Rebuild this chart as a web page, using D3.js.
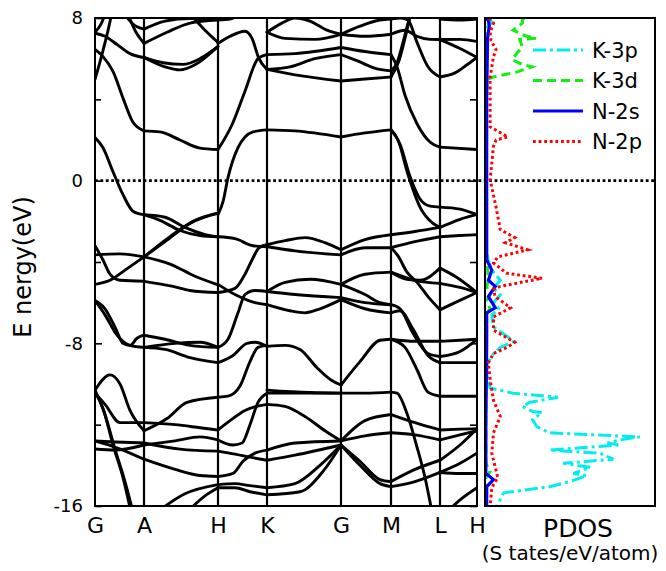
<!DOCTYPE html>
<html><head><meta charset="utf-8">
<script src="https://cdn.jsdelivr.net/npm/d3@7"></script>
<style>body{margin:0;background:#fff}text{font-family:"DejaVu Sans",sans-serif}</style>
</head><body>
<svg id="chart" width="666" height="571"></svg>
<script>
// ---- k-path & axis labels ----
const kLabels = ["G","A","H","K","G","M","L","H"];
const kPositions = [0,49,123,172,246,296,345,382];
const energyTicks = [8,0,-8,-16];
const minorTicks = [4,-4,-12];

// ---- band structure: [k, E(eV)] per segment ----
const bandsGA = [
 [[0,4.98],[8,6.4],[14,7.6],[17,8.3]],
 [[0,7.3],[6,7.7],[11,8.3]],
 [[0,7.25],[10,7.1],[22,6.7],[35,6.25],[49,6.06]],
 [[0,6.45],[8,6.1],[18,5.37],[28,4.06],[38,2.87],[49,2.45]],
 [[28,8.3],[38,7.7],[49,7.45]],
 [[32,8.3],[41,7.3],[49,6.75]],
 [[0,2.12],[8,1.62],[18,0.44],[28,-0.69],[38,-1.5],[49,-1.67]],
 [[0,-3.2],[8,-3.9],[15,-4.6],[25,-4.9],[49,-4.95]],
 [[0,-3.65],[25,-3.6],[49,-3.75]],
 [[0,-5.1],[15,-4.9],[30,-4.4],[49,-3.75]],
 [[0,-5.9],[10,-6.3],[20,-7.2],[28,-8.0],[35,-8.1],[42,-7.75],[49,-7.6]],
 [[0,-5.9],[10,-6.6],[22,-7.6],[35,-8.1],[49,-8.2]],
 [[0,-10.3],[15,-9.55],[25,-10.0],[35,-11.3],[49,-12.3]],
 [[0,-10.45],[10,-11.0],[25,-11.9],[49,-11.9]],
 [[0,-10.3],[10,-11.5],[20,-13.2],[30,-14.8],[38,-16.3]],
 [[0,-10.4],[8,-11.2],[18,-13.0],[28,-14.6],[36,-16.3]],
 [[0,-12.8],[20,-12.85],[49,-12.9]],
 [[0,-13.2],[20,-13.25],[49,-13.0]],
 [[0,-12.8],[20,-13.1],[49,-13.7]]
];
const bandsAH = [
 [[49,7.45],[70,7.85],[95,7.97],[123,7.97]],
 [[49,6.75],[72,7.3],[95,7.75],[123,7.9]],
 [[95,8.2],[110,7.4],[123,6.8]],
 [[49,6.06],[70,5.6],[85,5.45],[100,5.7],[123,6.6]],
 [[49,6.06],[68,5.8],[88,5.72],[105,6.0],[123,6.6]],
 [[49,2.45],[65,2.4],[85,2.0],[105,1.6],[123,1.53]],
 [[49,-1.67],[70,-1.8],[90,-2.3],[110,-2.65],[123,-2.76]],
 [[49,-1.67],[65,-1.95],[85,-2.45],[105,-2.7],[123,-2.76]],
 [[49,-3.75],[70,-3.0],[95,-2.1],[123,-1.6]],
 [[49,-3.75],[75,-2.75],[100,-1.95],[123,-1.6]],
 [[49,-3.75],[75,-4.1],[100,-4.7],[123,-5.12]],
 [[49,-4.95],[78,-5.2],[95,-5.4],[123,-5.5]],
 [[49,-7.6],[70,-7.8],[95,-8.1],[123,-8.2]],
 [[49,-8.2],[70,-8.3],[95,-8.7],[123,-8.95]],
 [[49,-8.2],[80,-8.0],[105,-7.95],[123,-8.2]],
 [[49,-12.3],[72,-11.7],[92,-10.9],[123,-10.65]],
 [[49,-11.9],[80,-12.0],[105,-12.15],[123,-12.26]],
 [[49,-13.0],[80,-12.8],[105,-12.6],[123,-12.75]],
 [[49,-12.9],[85,-13.2],[123,-13.3]],
 [[49,-13.7],[80,-14.2],[105,-14.5],[123,-14.55]],
 [[62,-16.3],[90,-15.4],[123,-14.95]],
 [[92,-16.3],[110,-15.5],[123,-15.1]]
];
const bandsHK = [
 [[123,1.53],[137,2.75],[150,4.4],[163,6.0],[172,6.2]],
 [[123,6.75],[135,7.1],[150,7.35],[157,7.0],[164,6.0],[172,5.47]],
 [[123,7.9],[135,7.95],[145,8.2]],
 [[123,-1.67],[128,-1.03],[133,0.15],[143,1.62],[158,2.4],[172,2.5]],
 [[123,-2.76],[140,-2.85],[158,-3.2],[172,-3.25]],
 [[123,-5.1],[140,-5.6],[160,-6.0],[172,-6.1]],
 [[123,-5.5],[140,-5.3],[150,-4.6],[158,-3.8],[164,-3.3],[172,-3.15]],
 [[123,-8.2],[133,-7.8],[143,-6.5],[150,-5.6],[160,-5.4],[172,-5.45]],
 [[123,-8.95],[138,-8.6],[152,-8.0],[160,-7.95],[172,-8.15]],
 [[123,-10.65],[133,-10.6],[145,-10.1],[155,-8.9],[163,-8.2],[172,-8.1]],
 [[123,-12.26],[135,-11.8],[150,-11.3],[172,-11.0]],
 [[123,-12.75],[138,-13.0],[147,-12.9],[155,-12.0],[163,-10.9],[172,-10.45]],
 [[123,-13.3],[140,-13.45],[155,-13.6],[172,-13.75]],
 [[123,-14.55],[138,-14.4],[148,-13.8],[160,-13.4],[172,-13.25]],
 [[123,-14.95],[140,-14.9],[155,-15.0],[172,-15.1]],
 [[123,-15.1],[140,-15.1],[155,-15.3],[172,-15.45]]
];
const bandsKG = [
 [[172,6.2],[200,6.25],[246,6.55]],
 [[172,5.47],[195,5.6],[220,6.0],[246,6.2]],
 [[172,5.47],[200,5.2],[246,4.9]],
 [[172,2.5],[200,2.45],[246,2.15]],
 [[172,7.3],[190,7.0],[220,6.95],[246,7.2]],
 [[172,7.3],[185,7.7],[200,8.0],[215,7.85],[232,7.4],[246,7.2]],
 [[172,-3.15],[190,-2.95],[210,-2.8],[230,-3.05],[246,-3.4]],
 [[172,-3.25],[200,-3.45],[246,-3.65]],
 [[172,-5.45],[190,-5.0],[215,-4.85],[246,-5.1]],
 [[172,-5.45],[200,-5.6],[246,-5.75]],
 [[172,-6.1],[195,-6.4],[210,-6.5],[225,-6.3],[246,-5.85]],
 [[172,-8.15],[190,-8.1],[205,-8.3],[222,-9.2],[236,-9.8],[246,-10.05]],
 [[172,-10.3],[215,-10.42],[246,-10.45]],
 [[172,-10.45],[246,-10.45]],
 [[172,-11.0],[190,-11.1],[210,-11.6],[230,-12.3],[246,-12.8]],
 [[172,-13.25],[200,-12.9],[246,-12.8]],
 [[172,-13.75],[200,-13.5],[246,-13.0]],
 [[172,-15.1],[200,-14.9],[225,-14.0],[246,-13.0]],
 [[172,-15.45],[205,-15.3],[228,-14.3],[246,-13.0]]
];
const bandsGM = [
 [[246,7.2],[265,7.6],[285,7.9],[296,7.95]],
 [[246,7.2],[270,7.1],[296,7.2]],
 [[246,6.55],[270,6.35],[296,6.2]],
 [[246,6.2],[262,5.9],[282,5.5],[296,5.4]],
 [[246,4.9],[270,5.0],[296,5.1]],
 [[246,2.15],[270,2.35],[296,2.5]],
 [[246,-3.4],[270,-2.9],[296,-2.66]],
 [[246,-3.65],[270,-3.3],[296,-3.3]],
 [[246,-5.1],[270,-4.6],[296,-4.5]],
 [[246,-5.1],[270,-5.6],[285,-6.0],[296,-6.1]],
 [[246,-5.75],[270,-6.0],[296,-6.1]],
 [[246,-5.85],[270,-6.3],[296,-6.5]],
 [[246,-10.05],[265,-8.9],[285,-7.85],[296,-7.8]],
 [[246,-10.45],[270,-10.45],[296,-10.4]],
 [[246,-12.8],[270,-11.8],[296,-11.5]],
 [[246,-12.8],[270,-12.55],[296,-12.4]],
 [[246,-13.0],[265,-14.0],[285,-14.9],[296,-15.05]],
 [[246,-13.0],[265,-13.8],[285,-14.7],[296,-14.8]]
];
const bandsML = [
 [[296,6.2],[302,5.6],[310,4.2],[322,2.8],[335,1.9],[345,1.65]],
 [[296,5.4],[302,5.8],[308,6.8],[314,7.9],[317,8.3]],
 [[296,5.1],[304,5.9],[311,7.2],[316,8.3]],
 [[296,7.95],[306,8.0],[313,7.9],[322,6.8],[333,5.6],[345,5.1]],
 [[296,7.2],[310,7.4],[322,7.1],[335,6.95],[345,6.94]],
 [[296,2.5],[305,1.8],[315,0.2],[325,-0.9],[335,-1.25],[345,-1.3]],
 [[296,2.5],[303,2.0],[313,0.3],[325,-1.3],[338,-2.1],[345,-2.3]],
 [[296,-2.66],[320,-2.5],[345,-2.3]],
 [[296,-3.3],[320,-3.0],[345,-2.76]],
 [[296,-3.3],[303,-3.7],[312,-4.5],[322,-5.0],[333,-5.7],[345,-6.35]],
 [[296,-4.5],[320,-4.9],[345,-5.05]],
 [[296,-4.5],[312,-4.85],[325,-4.9],[345,-4.3]],
 [[296,-6.1],[305,-6.3],[318,-7.5],[333,-8.5],[345,-8.65]],
 [[296,-6.5],[305,-6.4],[318,-7.3],[333,-8.6],[345,-8.95]],
 [[296,-7.8],[310,-8.2],[322,-9.3],[333,-10.4],[345,-10.6]],
 [[296,-7.8],[320,-7.9],[345,-7.9]],
 [[296,-10.4],[302,-10.45],[312,-11.45],[322,-13.1],[330,-14.6],[337,-16.3]],
 [[296,-11.5],[320,-11.9],[345,-12.26]],
 [[296,-12.4],[320,-12.5],[345,-12.75]],
 [[296,-14.8],[320,-14.2],[345,-13.75]],
 [[296,-15.05],[320,-14.8],[345,-14.35]]
];
const bandsLH = [
 [[345,6.94],[365,6.95],[382,6.85]],
 [[345,7.95],[365,7.9],[382,7.95]],
 [[345,5.1],[360,5.3],[372,5.7],[382,6.06]],
 [[345,6.94],[365,6.5],[382,6.06]],
 [[345,1.65],[382,1.53]],
 [[345,-1.3],[365,-1.4],[382,-1.67]],
 [[345,-2.3],[365,-1.9],[382,-1.67]],
 [[345,-2.76],[365,-2.7],[382,-2.66]],
 [[345,-4.3],[360,-4.7],[382,-5.5]],
 [[345,-5.05],[365,-5.25],[382,-5.5]],
 [[345,-6.35],[360,-6.0],[382,-5.5]],
 [[345,-7.9],[365,-7.85],[382,-7.8]],
 [[345,-8.65],[365,-8.4],[382,-7.8]],
 [[345,-8.95],[365,-8.95],[382,-8.95]],
 [[345,-10.6],[382,-10.6]],
 [[345,-12.26],[365,-12.22],[382,-12.2]],
 [[345,-12.75],[365,-12.5],[382,-12.3]],
 [[345,-13.75],[365,-13.0],[382,-12.2]],
 [[345,-14.35],[365,-13.9],[382,-13.4]],
 [[345,-14.35],[365,-14.4],[382,-14.4]],
 [[352,-16.3],[365,-15.7],[382,-15.1]]
];

// ---- PDOS: [E(eV), states/eV/atom] ----
const pdosK3p = [[8.0,0.2],[7.8,0.4],[7.5,0.1],[5,0.05],[0,0.05],[-3.5,0.1],[-4.0,0.2],[-4.5,0.5],[-4.9,0.9],[-5.3,0.5],[-5.6,0.9],[-6.0,0.5],[-6.3,0.8],[-6.6,0.4],[-7.2,0.5],[-7.6,1.2],[-7.9,1.7],[-8.2,0.9],[-8.6,0.4],[-9.0,0.15],[-9.5,0.1],[-10.2,0.3],[-10.45,1.65],[-10.65,4.3],[-10.9,2.65],[-11.1,2.2],[-11.35,2.8],[-11.4,3.35],[-11.75,2.8],[-12.1,3.05],[-12.4,3.8],[-12.6,9.1],[-12.75,7.95],[-12.9,7.2],[-13.0,7.95],[-13.25,3.8],[-13.4,6.75],[-13.7,7.55],[-13.9,4.6],[-14.1,6.2],[-14.4,5.2],[-14.5,6.0],[-14.8,5.0],[-15.05,3.8],[-15.35,1.1],[-16.0,0.7]];
const pdosK3d = [[8.0,2.3],[7.9,2.2],[7.75,2.2],[7.4,1.65],[7.1,2.45],[7.0,3.0],[6.95,2.05],[6.55,2.2],[6.3,1.9],[5.95,1.6],[5.7,2.25],[5.6,2.75],[5.35,1.9],[5.1,0.5],[5.0,0.2],[4.5,0.1],[2.0,0.05],[-3.0,0.05],[-4.9,0.2],[-5.2,0.1],[-5.6,0.3],[-5.9,0.1],[-6.3,0.3],[-6.6,0.05],[-8,0.05],[-13.9,0.05],[-14.3,0.3],[-14.6,0.05],[-16,0.05]];
const pdosN2s = [[8.0,0.0],[7.9,0.2],[7.6,0.25],[7.0,0.15],[4,0.1],[0,0.1],[-3.6,0.1],[-3.9,0.1],[-4.4,0.4],[-4.9,0.2],[-5.2,0.6],[-5.7,0.2],[-6.25,0.6],[-6.5,0.1],[-8,0.1],[-12,0.05],[-14.4,0.05],[-14.7,0.5],[-15.05,0.1],[-16,0.1]];
const pdosN2p = [[8.0,0.3],[7.9,0.3],[7.75,0.5],[7.3,0.3],[6.9,0.35],[6.45,0.65],[6.1,0.5],[5.1,0.3],[2.65,0.3],[2.15,1.35],[2.0,0.65],[1.7,0.5],[0.05,0.3],[-1.3,0.65],[-2.4,0.9],[-2.8,1.75],[-3.05,1.2],[-3.4,2.5],[-3.75,0.75],[-4.05,0.5],[-4.3,0.9],[-4.55,1.25],[-4.8,3.35],[-5.2,0.9],[-5.35,0.5],[-5.7,0.6],[-6.25,1.5],[-6.7,0.5],[-7.35,0.5],[-7.95,1.75],[-8.2,1.3],[-8.5,0.5],[-8.95,0.2],[-9.8,0.3],[-10.8,0.5],[-11.6,0.9],[-12.4,0.5],[-13.4,0.4],[-14.6,0.75],[-15.1,0.4],[-16,0.3]];
const legendNames = ["K-3p","K-3d","N-2s","N-2p"];
const legendColors = ["#00eeee","#11ee11","#0000ff","#ff0000"];
const legendDash = ["13,4,3,4","9,5",null,"2.8,2.8"];

// ---- drawing ----
const svg = d3.select("#chart");
const x = d3.scaleLinear().domain([0,382]).range([95,477]);
const y = d3.scaleLinear().domain([-16,8]).range([506,18]);
const xd = d3.scaleLinear().domain([0,10]).range([485,655]);

const defs = svg.append("defs");
defs.append("clipPath").attr("id","cb").append("rect")
  .attr("x",x(0)).attr("y",y(8)).attr("width",x(382)-x(0)).attr("height",y(-16)-y(8));
defs.append("clipPath").attr("id","cd").append("rect")
  .attr("x",xd(0)).attr("y",y(8)).attr("width",xd(10)-xd(0)).attr("height",y(-16)-y(8));

// vertical k lines
svg.append("g").selectAll("line").data(kPositions.slice(1,-1)).join("line")
  .attr("x1",d=>x(d)).attr("x2",d=>x(d)).attr("y1",y(8)).attr("y2",y(-16))
  .attr("stroke","#000").attr("stroke-width",2.2);

// bands
const bandLine = d3.line().x(d=>x(d[0])).y(d=>y(d[1])).curve(d3.curveMonotoneX);
const allBands = [].concat(bandsGA,bandsAH,bandsHK,bandsKG,bandsGM,bandsML,bandsLH);
svg.append("g").attr("clip-path","url(#cb)").selectAll("path").data(allBands).join("path")
  .attr("d",bandLine).attr("fill","none").attr("stroke","#000")
  .attr("stroke-width",2.9).attr("stroke-linejoin","round").attr("stroke-linecap","round");

// Fermi level
svg.append("line").attr("x1",x(0)).attr("x2",xd(10)).attr("y1",y(0)).attr("y2",y(0))
  .attr("stroke","#000").attr("stroke-width",2.8).attr("stroke-dasharray","2.8,2.6");

// PDOS
const dosLine = d3.line().x(d=>xd(d[1])).y(d=>y(d[0]));
const dosSeries = [pdosK3p,pdosK3d,pdosN2s,pdosN2p];
const gd = svg.append("g").attr("clip-path","url(#cd)");
dosSeries.forEach((s,i)=>{
  gd.append("path").attr("d",dosLine(s)).attr("fill","none")
    .attr("stroke",legendColors[i]).attr("stroke-width",i==2?3.2:3)
    .attr("stroke-dasharray",legendDash[i]);
});

// axes
const gl = svg.append("g").attr("transform",`translate(${x(0)},0)`)
  .call(d3.axisLeft(y).tickValues(energyTicks).tickSize(-7).tickPadding(12).tickFormat(d=>String(d)));
gl.append("g").call(d3.axisLeft(y).tickValues(minorTicks).tickSize(-6).tickFormat(""));
const gr = svg.append("g").attr("transform",`translate(${x(382)},0)`)
  .call(d3.axisRight(y).tickValues(energyTicks.concat(minorTicks)).tickSize(-7).tickFormat(""));
const gb = svg.append("g").attr("transform",`translate(0,${y(-16)})`)
  .call(d3.axisBottom(x).tickValues(kPositions).tickSize(0).tickPadding(11).tickFormat((d,i)=>kLabels[i]));
[gl,gr,gb].forEach(g=>{g.selectAll(".domain").remove(); g.selectAll("line").attr("stroke","#000").attr("stroke-width",1.6);});
gl.selectAll("text").attr("font-size",18).attr("font-family","DejaVu Sans").attr("fill","#000");
gb.selectAll("text").attr("font-size",22).attr("font-family","DejaVu Sans").attr("fill","#000");

// frames
svg.append("rect").attr("x",x(0)).attr("y",y(8)).attr("width",x(382)-x(0)).attr("height",y(-16)-y(8))
  .attr("fill","none").attr("stroke","#000").attr("stroke-width",2);
svg.append("rect").attr("x",xd(0)).attr("y",y(8)).attr("width",xd(10)-xd(0)).attr("height",y(-16)-y(8))
  .attr("fill","none").attr("stroke","#000").attr("stroke-width",2);

// legend
const lg = svg.append("g");
legendNames.forEach((n,i)=>{
  const ly = 50 + i*30.5;
  lg.append("line").attr("x1",533).attr("x2",583).attr("y1",ly).attr("y2",ly)
    .attr("stroke",legendColors[i]).attr("stroke-width",i==2?3.2:3).attr("stroke-dasharray",legendDash[i]);
  lg.append("text").attr("x",592).attr("y",ly+7.5).attr("font-size",21).text(n);
});

// titles
svg.append("text").attr("transform","translate(31,267) rotate(-90)").attr("text-anchor","middle")
  .attr("font-size",24).text("E nergy(eV)");
svg.append("text").attr("x",578).attr("y",537).attr("text-anchor","middle").attr("font-size",25).text("PDOS");
svg.append("text").attr("x",570).attr("y",560).attr("text-anchor","middle").attr("font-size",20).text("(S tates/eV/atom)");
</script>
</body></html>
